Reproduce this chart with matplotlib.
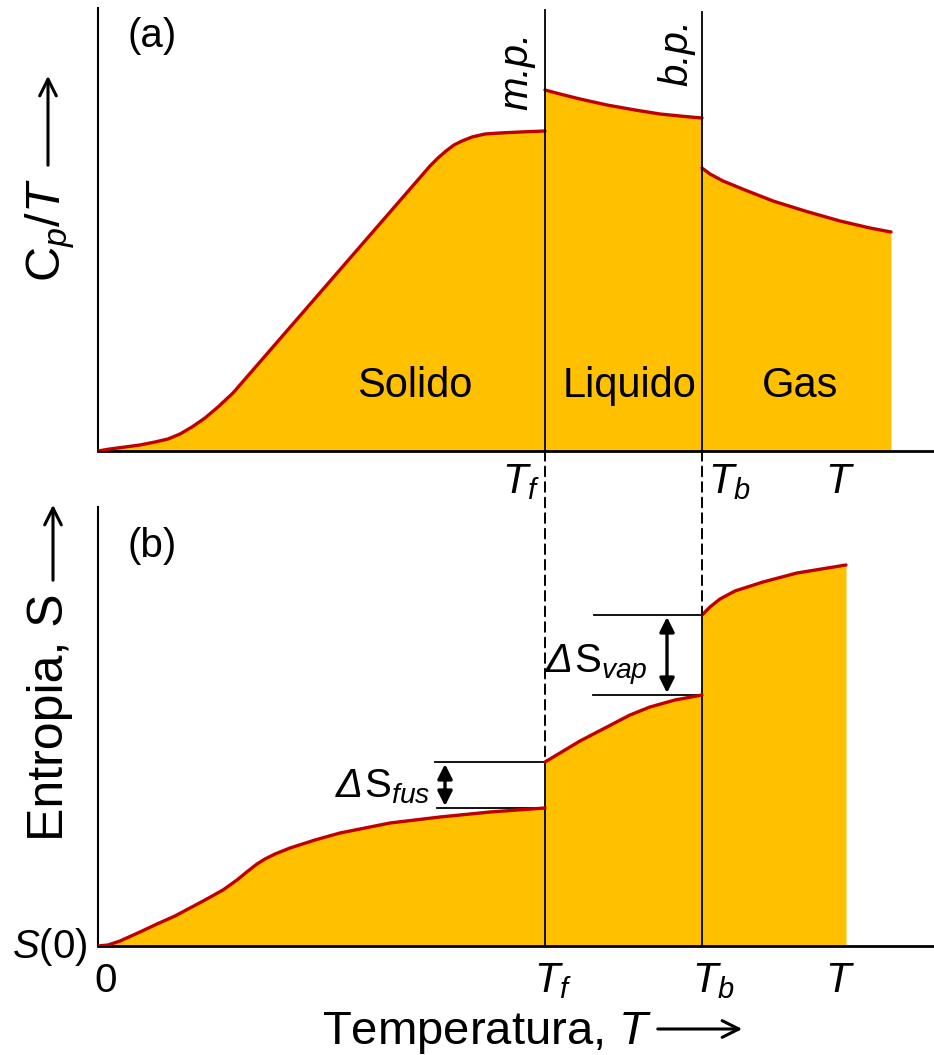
import matplotlib
matplotlib.use("Agg")
import matplotlib.pyplot as plt
from matplotlib.patches import ConnectionPatch, FancyArrowPatch
from matplotlib.transforms import offset_copy

plt.rcParams['font.family'] = ['Liberation Sans', 'DejaVu Sans']
plt.rcParams['mathtext.fontset'] = 'custom'
plt.rcParams['mathtext.rm'] = 'Liberation Sans'
plt.rcParams['mathtext.it'] = 'Liberation Sans:italic'
plt.rcParams['mathtext.bf'] = 'Liberation Sans:bold'

# ---------------- data (schematic units) ----------------
T_f = 4.47
T_b = 6.04

# (a) Cp/T
solid_T = [0.0, 0.12, 0.27, 0.42, 0.57, 0.70, 0.82, 0.94, 1.07, 1.20, 1.35, 3.32,
           3.40, 3.48, 3.56, 3.64, 3.74, 3.87, 4.02, 4.22, 4.47]
solid_cp = [0.0, 0.02, 0.04, 0.06, 0.09, 0.12, 0.17, 0.24, 0.33, 0.44, 0.58, 2.85,
            2.93, 3.00, 3.06, 3.10, 3.14, 3.17, 3.18, 3.19, 3.20]
liquid_T = [4.47, 4.62, 4.82, 5.09, 5.37, 5.62, 5.87, 6.04]
liquid_cp = [3.61, 3.57, 3.52, 3.46, 3.41, 3.37, 3.345, 3.33]
gas_T = [6.04, 6.12, 6.25, 6.47, 6.75, 7.07, 7.42, 7.72, 7.93]
gas_cp = [2.83, 2.77, 2.70, 2.61, 2.50, 2.40, 2.30, 2.23, 2.19]

# (b) Entropy
solid_S_T = [0.0, 0.10, 0.22, 0.42, 0.59, 0.77, 0.92, 1.07, 1.25, 1.39, 1.50, 1.59,
             1.67, 1.77, 1.92, 2.17, 2.42, 2.67, 2.92, 3.17, 3.42, 3.92, 4.47]
solid_S = [0.0, 0.01, 0.05, 0.14, 0.22, 0.30, 0.38, 0.46, 0.56, 0.66, 0.75, 0.82,
           0.87, 0.92, 0.98, 1.06, 1.13, 1.18, 1.23, 1.26, 1.29, 1.34, 1.38]
liquid_S_T = [4.47, 4.62, 4.82, 5.07, 5.32, 5.52, 5.77, 6.04]
liquid_S = [1.84, 1.93, 2.05, 2.18, 2.31, 2.39, 2.46, 2.51]
gas_S_T = [6.04, 6.12, 6.22, 6.37, 6.65, 6.99, 7.48]
gas_S = [3.31, 3.39, 3.47, 3.55, 3.64, 3.73, 3.81]

tick_labels_top = [r'$T_f$', r'$T_b$', r'$T$']
tick_labels_bot = ['0', r'$T_f$', r'$T_b$', r'$T$']
phase_labels = ['Solido', 'Liquido', 'Gas']

FILL = '#FFC000'
LINE = '#C00000'

W, H = 934, 1055
fig = plt.figure(figsize=(W / 100, H / 100), dpi=100)


def fx(px):
    return px / W


def fy(py):
    return 1 - py / H


def px2T(px):
    return (px - 98) / 100.0


ax1 = fig.add_axes([fx(98), fy(451), 1 - fx(98), (451 - 8) / H])
ax2 = fig.add_axes([fx(98), fy(946), 1 - fx(98), (946 - 507) / H])

for ax, ymax in ((ax1, 4.43), (ax2, 4.39)):
    ax.set_xlim(0, 8.36)
    ax.set_ylim(0, ymax)
    ax.set_xticks([])
    ax.set_yticks([])
    for s in ('top', 'right'):
        ax.spines[s].set_visible(False)
    ax.spines['left'].set_linewidth(1.5)
    ax.spines['bottom'].set_linewidth(2.0)
    ax.patch.set_alpha(0)

# ---- panel (a)
for xs, ys in ((solid_T, solid_cp), (liquid_T, liquid_cp), (gas_T, gas_cp)):
    ax1.fill_between(xs, 0, ys, color=FILL, lw=0, zorder=1)
    ax1.plot(xs, ys, color=LINE, lw=2.4, zorder=3, solid_capstyle='round',
             solid_joinstyle='round')
ax1.plot([T_f, T_f], [0, 4.41], color='black', lw=1.3, zorder=4)
ax1.plot([T_b, T_b], [0, 4.39], color='black', lw=1.3, zorder=4)

ax1.text(px2T(128), (451 - 47) / 100, '(a)', fontsize=29, ha='left', va='baseline')
ax1.text(px2T(415), (451 - 397) / 100, phase_labels[0], fontsize=30, ha='center', va='baseline')
ax1.text(px2T(630), (451 - 397) / 100, phase_labels[1], fontsize=30, ha='center', va='baseline')
ax1.text(px2T(800), (451 - 397) / 100, phase_labels[2], fontsize=30, ha='center', va='baseline')
ax1.text(px2T(516), (451 - 71) / 100, 'm.p.', fontsize=29, style='italic', rotation=90,
         ha='center', va='center')
ax1.text(px2T(676), (451 - 53) / 100, 'b.p.', fontsize=29, style='italic', rotation=90,
         ha='center', va='center')

# tick-like labels under panel (a)
ax1.text(px2T(540), -(493 - 451) / 100, tick_labels_top[0], fontsize=30, ha='right', va='baseline')
ax1.text(px2T(708), -(493 - 451) / 100, tick_labels_top[1], fontsize=30, ha='left', va='baseline')
ax1.text(px2T(840), -(493 - 451) / 100, tick_labels_top[2], fontsize=30, ha='center', va='baseline')

# ---- panel (b)
for xs, ys in ((solid_S_T, solid_S), (liquid_S_T, liquid_S), (gas_S_T, gas_S)):
    ax2.fill_between(xs, 0, ys, color=FILL, lw=0, zorder=1)
    ax2.plot(xs, ys, color=LINE, lw=2.4, zorder=3, solid_capstyle='round',
             solid_joinstyle='round')
ax2.plot([T_f, T_f], [0, liquid_S[0]], color='black', lw=1.3, zorder=2)
ax2.plot([T_b, T_b], [0, gas_S[0]], color='black', lw=1.3, zorder=2)

# delta S markers
ax2.plot([px2T(435), T_f], [liquid_S[0]] * 2, color='black', lw=1.3)
ax2.plot([px2T(437), T_f], [solid_S[-1]] * 2, color='black', lw=1.3)
ax2.plot([px2T(594), T_b], [gas_S[0]] * 2, color='black', lw=1.3)
ax2.plot([px2T(593), T_b], [liquid_S[-1]] * 2, color='black', lw=1.3)
ax2.annotate('', xy=(px2T(445), solid_S[-1] + 0.02), xytext=(px2T(445), liquid_S[0] - 0.02),
             arrowprops=dict(arrowstyle='<|-|>', color='black', lw=2.4, mutation_scale=22,
                             shrinkA=0, shrinkB=0))
ax2.annotate('', xy=(px2T(667), liquid_S[-1] + 0.02), xytext=(px2T(667), gas_S[0] - 0.02),
             arrowprops=dict(arrowstyle='<|-|>', color='black', lw=2.4, mutation_scale=22,
                             shrinkA=0, shrinkB=0))

renderer = fig.canvas.get_renderer()
# Delta S_fus (right aligned)
t_fus = ax2.text(px2T(430), (946 - 797) / 100, r'$\mathrm{S}_{fus}$', fontsize=29,
                 ha='right', va='baseline')
w_fus = t_fus.get_window_extent(renderer).width
ax2.text(px2T(430), (946 - 797) / 100, '\u0394', fontsize=29, style='italic', ha='right',
         va='baseline', transform=offset_copy(ax2.transData, fig=fig, x=-w_fus - 1, units='dots'))
# Delta S_vap (left aligned)
t_d = ax2.text(px2T(546), (946 - 672) / 100, '\u0394', fontsize=29, style='italic',
               ha='left', va='baseline')
w_d = t_d.get_window_extent(renderer).width
ax2.text(px2T(546), (946 - 672) / 100, r'$\mathrm{S}_{vap}$', fontsize=29, ha='left',
         va='baseline', transform=offset_copy(ax2.transData, fig=fig, x=w_d + 1, units='dots'))

ax2.text(px2T(128), (946 - 557) / 100, '(b)', fontsize=29, ha='left', va='baseline')
ax2.text(px2T(88), (946 - 958) / 100, r'$S$(0)', fontsize=29, ha='right', va='baseline')
ax2.text(px2T(106), -(992 - 946) / 100, tick_labels_bot[0], fontsize=29, ha='center', va='baseline')
ax2.text(px2T(553), -(992 - 946) / 100, tick_labels_bot[1], fontsize=30, ha='center', va='baseline')
ax2.text(px2T(713), -(992 - 946) / 100, tick_labels_bot[2], fontsize=30, ha='center', va='baseline')
ax2.text(px2T(840), -(992 - 946) / 100, tick_labels_bot[3], fontsize=30, ha='center', va='baseline')

# dashed connectors between panels
for xv, yv in ((T_f, liquid_S[0]), (T_b, gas_S[0])):
    con = ConnectionPatch(xyA=(xv, 0), coordsA=ax1.transData, xyB=(xv, yv), coordsB=ax2.transData,
                          linestyle=(0, (5, 3)), lw=1.4, color='black', zorder=5)
    fig.add_artist(con)

# axis labels
fig.text(fx(50), fy(230), r'$\mathrm{C}_p/T$', fontsize=35, rotation=90, ha='center', va='center')
fig.text(fx(50), fy(717), 'Entropia, S', fontsize=36, rotation=90, ha='center', va='center')
fig.text(fx(322), fy(1044), r'Temperatura, $T$', fontsize=34, ha='left', va='baseline')

for (x0, y0, x1, y1) in ((48, 168, 48, 73), (53, 583, 53, 502), (655, 1029, 745, 1029)):
    fig.add_artist(FancyArrowPatch(
        (fx(x0), fy(y0)), (fx(x1), fy(y1)), transform=fig.transFigure,
        arrowstyle='->', mutation_scale=30, lw=2.2, color='black'))

fig.savefig('out.png', dpi=100)
